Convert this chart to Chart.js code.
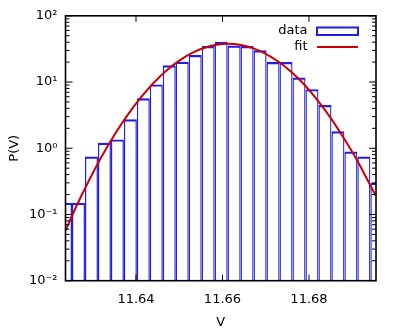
<!DOCTYPE html>
<html>
<head>
<meta charset="utf-8">
<script src="https://cdn.jsdelivr.net/npm/chart.js@4.4.1/dist/chart.umd.min.js"></script>
<style>
  html, body { margin: 0; padding: 0; background: #fff; }
  canvas { display: block; }
</style>
</head>
<body>
<canvas id="hist" width="403" height="333"></canvas>
<script>
// histogram bin centres (V) and heights P(V)
const binCenters = [11.6237, 11.6267, 11.6297, 11.6327, 11.6357, 11.6387, 11.6417, 11.6447,
    11.6477, 11.6507, 11.6537, 11.6567, 11.6597, 11.6627, 11.6657, 11.6687, 11.6717, 11.6747,
    11.6777, 11.6807, 11.6837, 11.6867, 11.6897, 11.6927, 11.6957];
const binCounts = [0.15, 0.15, 0.75, 1.21, 1.36, 2.73, 5.7, 9.2,
    17.9, 20.2, 25.5, 35, 40.5, 35.5, 35, 30.2, 20, 20,
    11.7, 7.8, 4.5, 1.8, 0.89, 0.75, 0.3];

// fit curve
const fitX = [11.6237, 11.626, 11.629, 11.632, 11.635, 11.638, 11.641, 11.644, 11.647,
    11.650, 11.653, 11.656, 11.659, 11.6613, 11.664, 11.667, 11.670, 11.673, 11.676,
    11.679, 11.682, 11.685, 11.688, 11.691, 11.694, 11.6955];
const fitY = [0.057, 0.124, 0.315, 0.74, 1.59, 3.14, 5.7, 9.6, 14.8,
    21.0, 27.5, 33.2, 36.9, 37.8, 36.5, 32.5, 26.7, 20.2, 14.0,
    9.0, 5.3, 2.88, 1.44, 0.68, 0.29, 0.19];

const xTicks = [11.64, 11.66, 11.68];
const yTicks = [0.01, 0.1, 1, 10, 100];
const yTickLabels = ["10\u207B\u00B2", "10\u207B\u00B9", "10\u2070", "10\u00B9", "10\u00B2"];

const BLUE = "#1e1ee6";
const RED = "#cc0000";

Chart.defaults.font.family = "'DejaVu Sans', sans-serif";
Chart.defaults.font.size = 13;
Chart.defaults.color = "#000";

const frame = {
    id: "frame",
    afterDatasetsDraw(chart) {
        const { ctx, chartArea: a, scales: { x, y } } = chart;
        ctx.save();
        ctx.strokeStyle = "#000";
        ctx.lineWidth = 1;
        ctx.beginPath();
        // log ticks, both sides, pointing in
        for (let e = -2; e <= 2; e++) {
            for (let m = 1; m <= 9; m++) {
                if (e === 2 && m > 1) break;
                const py = y.getPixelForValue(m * Math.pow(10, e));
                const len = m === 1 ? 7 : 4;
                ctx.moveTo(a.left, py); ctx.lineTo(a.left + len, py);
                ctx.moveTo(a.right, py); ctx.lineTo(a.right - len, py);
            }
        }
        xTicks.forEach(v => {
            const px = x.getPixelForValue(v);
            ctx.moveTo(px, a.bottom); ctx.lineTo(px, a.bottom - 6);
            ctx.moveTo(px, a.top); ctx.lineTo(px, a.top + 6);
        });
        ctx.stroke();
        ctx.lineWidth = 1.6;
        ctx.strokeRect(a.left, a.top, a.right - a.left, a.bottom - a.top);

        // key
        ctx.font = "13px 'DejaVu Sans'";
        ctx.fillStyle = "#000";
        ctx.textAlign = "right";
        ctx.textBaseline = "middle";
        ctx.fillText("data", 307.5, 31);
        ctx.fillText("fit", 307.5, 47);
        ctx.strokeStyle = BLUE;
        ctx.lineWidth = 2;
        ctx.strokeRect(317, 27.5, 41, 7.5);
        ctx.strokeStyle = RED;
        ctx.beginPath();
        ctx.moveTo(317, 47); ctx.lineTo(358, 47);
        ctx.stroke();
        ctx.restore();
    }
};

new Chart(document.getElementById("hist"), {
    type: "bar",
    data: {
        datasets: [
            {
                type: "line",
                label: "fit",
                data: fitX.map((v, i) => ({ x: v, y: fitY[i] })),
                borderColor: RED,
                borderWidth: 2,
                pointRadius: 0,
                tension: 0.3,
                fill: false,
                order: 0
            },
            {
                type: "bar",
                label: "data",
                data: binCenters.map((v, i) => ({ x: v, y: binCounts[i] })),
                backgroundColor: "rgba(255,255,255,0)",
                borderColor: BLUE,
                borderWidth: { top: 2.2, left: 1.25, right: 1.25, bottom: 0 },
                borderSkipped: "start",
                barPercentage: 1,
                categoryPercentage: 1,
                inflateAmount: 0,
                order: 1
            }
        ]
    },
    options: {
        responsive: false,
        animation: false,
        devicePixelRatio: 1,
        layout: { padding: { left: 0, top: 15.7, right: 27, bottom: 0 } },
        plugins: { legend: { display: false }, tooltip: { enabled: false } },
        scales: {
            x: {
                type: "linear",
                min: 11.6237,
                max: 11.6955,
                offset: false,
                grid: { display: false, drawTicks: false },
                border: { display: false },
                afterBuildTicks: s => { s.ticks = xTicks.map(v => ({ value: v })); },
                afterFit: s => { s.height = 52.3; },
                ticks: {
                    padding: 11,
                    autoSkip: false,
                    maxRotation: 0,
                    callback: v => v.toFixed(2)
                },
                title: { display: true, text: "V", padding: { top: 0, bottom: 3 } }
            },
            y: {
                type: "logarithmic",
                min: 0.01,
                max: 100,
                grid: { display: false, drawTicks: false },
                border: { display: false },
                afterBuildTicks: s => { s.ticks = yTicks.map(v => ({ value: v, major: true })); },
                afterFit: s => { s.width = 65.5; },
                ticks: {
                    padding: 8,
                    autoSkip: false,
                    callback: (v, i) => yTickLabels[i]
                },
                title: { display: true, text: "P(V)", padding: { top: 7, bottom: 0 } }
            }
        }
    },
    plugins: [frame]
});
</script>
</body>
</html>
